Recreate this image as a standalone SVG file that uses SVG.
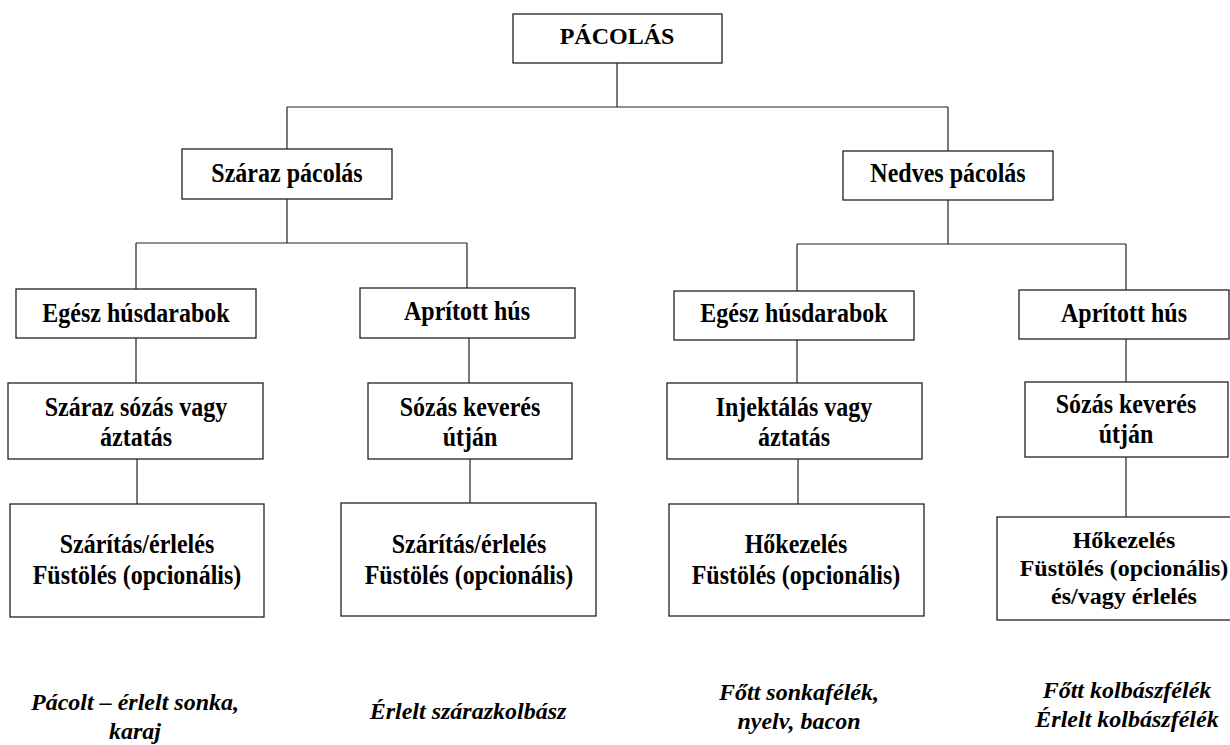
<svg xmlns="http://www.w3.org/2000/svg" width="1230" height="745" viewBox="0 0 1230 745">
<style>
.box{fill:#fff;stroke:#222;stroke-width:1.3}
.t{font-family:'Liberation Serif','Times New Roman',serif;font-weight:bold;font-size:24px;fill:#000;text-anchor:middle}
.i{font-family:'Liberation Serif','Times New Roman',serif;font-weight:bold;font-style:italic;font-size:24px;fill:#000;text-anchor:middle}
.c{fill:none;stroke:#222;stroke-width:1.2}
</style>
<rect width="1230" height="745" fill="#fff"/>
<g id="connectors" class="c">
<path d="M617,63 V107 M287,107 H948 M287,107 V149 M948,107 V151"/>
<path d="M287,199 V243 M136,243 H467 M136,243 V289 M467,243 V288"/>
<path d="M948,200 V244 M797,244 H1126 M797,244 V291 M1126,244 V290"/>
<path d="M136,338 V383 M469,338 V383 M797,340 V383 M1126,339 V382"/>
<path d="M137,459 V504 M470,459 V503 M798,459 V504 M1126,457 V517"/>
</g>
<g id="n-pacolas"><rect class="box" x="513" y="14" width="209" height="49"/><text class="t" x="617" y="44">PÁCOLÁS</text></g>
<g id="n-szaraz"><rect class="box" x="182" y="149" width="210" height="50"/><text class="t" transform="translate(287,182) scale(1,1.1)">Száraz pácolás</text></g>
<g id="n-nedves"><rect class="box" x="843" y="151" width="210" height="49"/><text class="t" transform="translate(948,182) scale(1,1.1)">Nedves pácolás</text></g>
<g id="n-egesz1"><rect class="box" x="16" y="289" width="240" height="49"/><text class="t" transform="translate(136,322) scale(1,1.1)">Egész húsdarabok</text></g>
<g id="n-aprit1"><rect class="box" x="360" y="288" width="215" height="50"/><text class="t" transform="translate(467,320) scale(1,1.1)">Aprított hús</text></g>
<g id="n-egesz2"><rect class="box" x="674" y="291" width="240" height="49"/><text class="t" transform="translate(794,322) scale(1,1.1)">Egész húsdarabok</text></g>
<g id="n-aprit2"><rect class="box" x="1019" y="290" width="210" height="49"/><text class="t" transform="translate(1124,322) scale(1,1.1)">Aprított hús</text></g>
<g id="n-szsozas"><rect class="box" x="8" y="383" width="255" height="76"/><text class="t" transform="translate(136,416) scale(1,1.1)">Száraz sózás vagy</text><text class="t" transform="translate(136,446) scale(1,1.1)">áztatás</text></g>
<g id="n-sozas1"><rect class="box" x="368" y="383" width="204" height="76"/><text class="t" transform="translate(470,416) scale(1,1.1)">Sózás keverés</text><text class="t" transform="translate(470,446) scale(1,1.1)">útján</text></g>
<g id="n-injekt"><rect class="box" x="667" y="383" width="255" height="76"/><text class="t" transform="translate(794,416) scale(1,1.1)">Injektálás vagy</text><text class="t" transform="translate(794,446) scale(1,1.1)">áztatás</text></g>
<g id="n-sozas2"><rect class="box" x="1025" y="382" width="203" height="75"/><text class="t" transform="translate(1126,413) scale(1,1.1)">Sózás keverés</text><text class="t" transform="translate(1126,443) scale(1,1.1)">útján</text></g>
<g id="n-szarit1"><rect class="box" x="10" y="504" width="254" height="113"/><text class="t" transform="translate(137,553) scale(1,1.1)">Szárítás/érlelés</text><text class="t" transform="translate(137,584) scale(1,1.1)">Füstölés (opcionális)</text></g>
<g id="n-szarit2"><rect class="box" x="341" y="503" width="255" height="113"/><text class="t" transform="translate(469,553) scale(1,1.1)">Szárítás/érlelés</text><text class="t" transform="translate(469,584) scale(1,1.1)">Füstölés (opcionális)</text></g>
<g id="n-hokez1"><rect class="box" x="669" y="504" width="255" height="112"/><text class="t" transform="translate(796,553) scale(1,1.1)">Hőkezelés</text><text class="t" transform="translate(796,584) scale(1,1.1)">Füstölés (opcionális)</text></g>
<g id="n-hokez2"><rect class="box" x="997" y="517" width="258" height="103"/><text class="t" x="1124" y="548">Hőkezelés</text><text class="t" x="1124" y="576">Füstölés (opcionális)</text><text class="t" x="1124" y="604">és/vagy érlelés</text></g>
<g id="products">
<text class="i" x="135" y="710">Pácolt – érlelt sonka,</text>
<text class="i" x="135" y="739">karaj</text>
<text class="i" x="468" y="719">Érlelt szárazkolbász</text>
<text class="i" x="799" y="700">Főtt sonkafélék,</text>
<text class="i" x="799" y="729">nyelv, bacon</text>
<text class="i" x="1127" y="698">Főtt kolbászfélék</text>
<text class="i" x="1127" y="727">Érlelt kolbászfélék</text>
</g>
</svg>
